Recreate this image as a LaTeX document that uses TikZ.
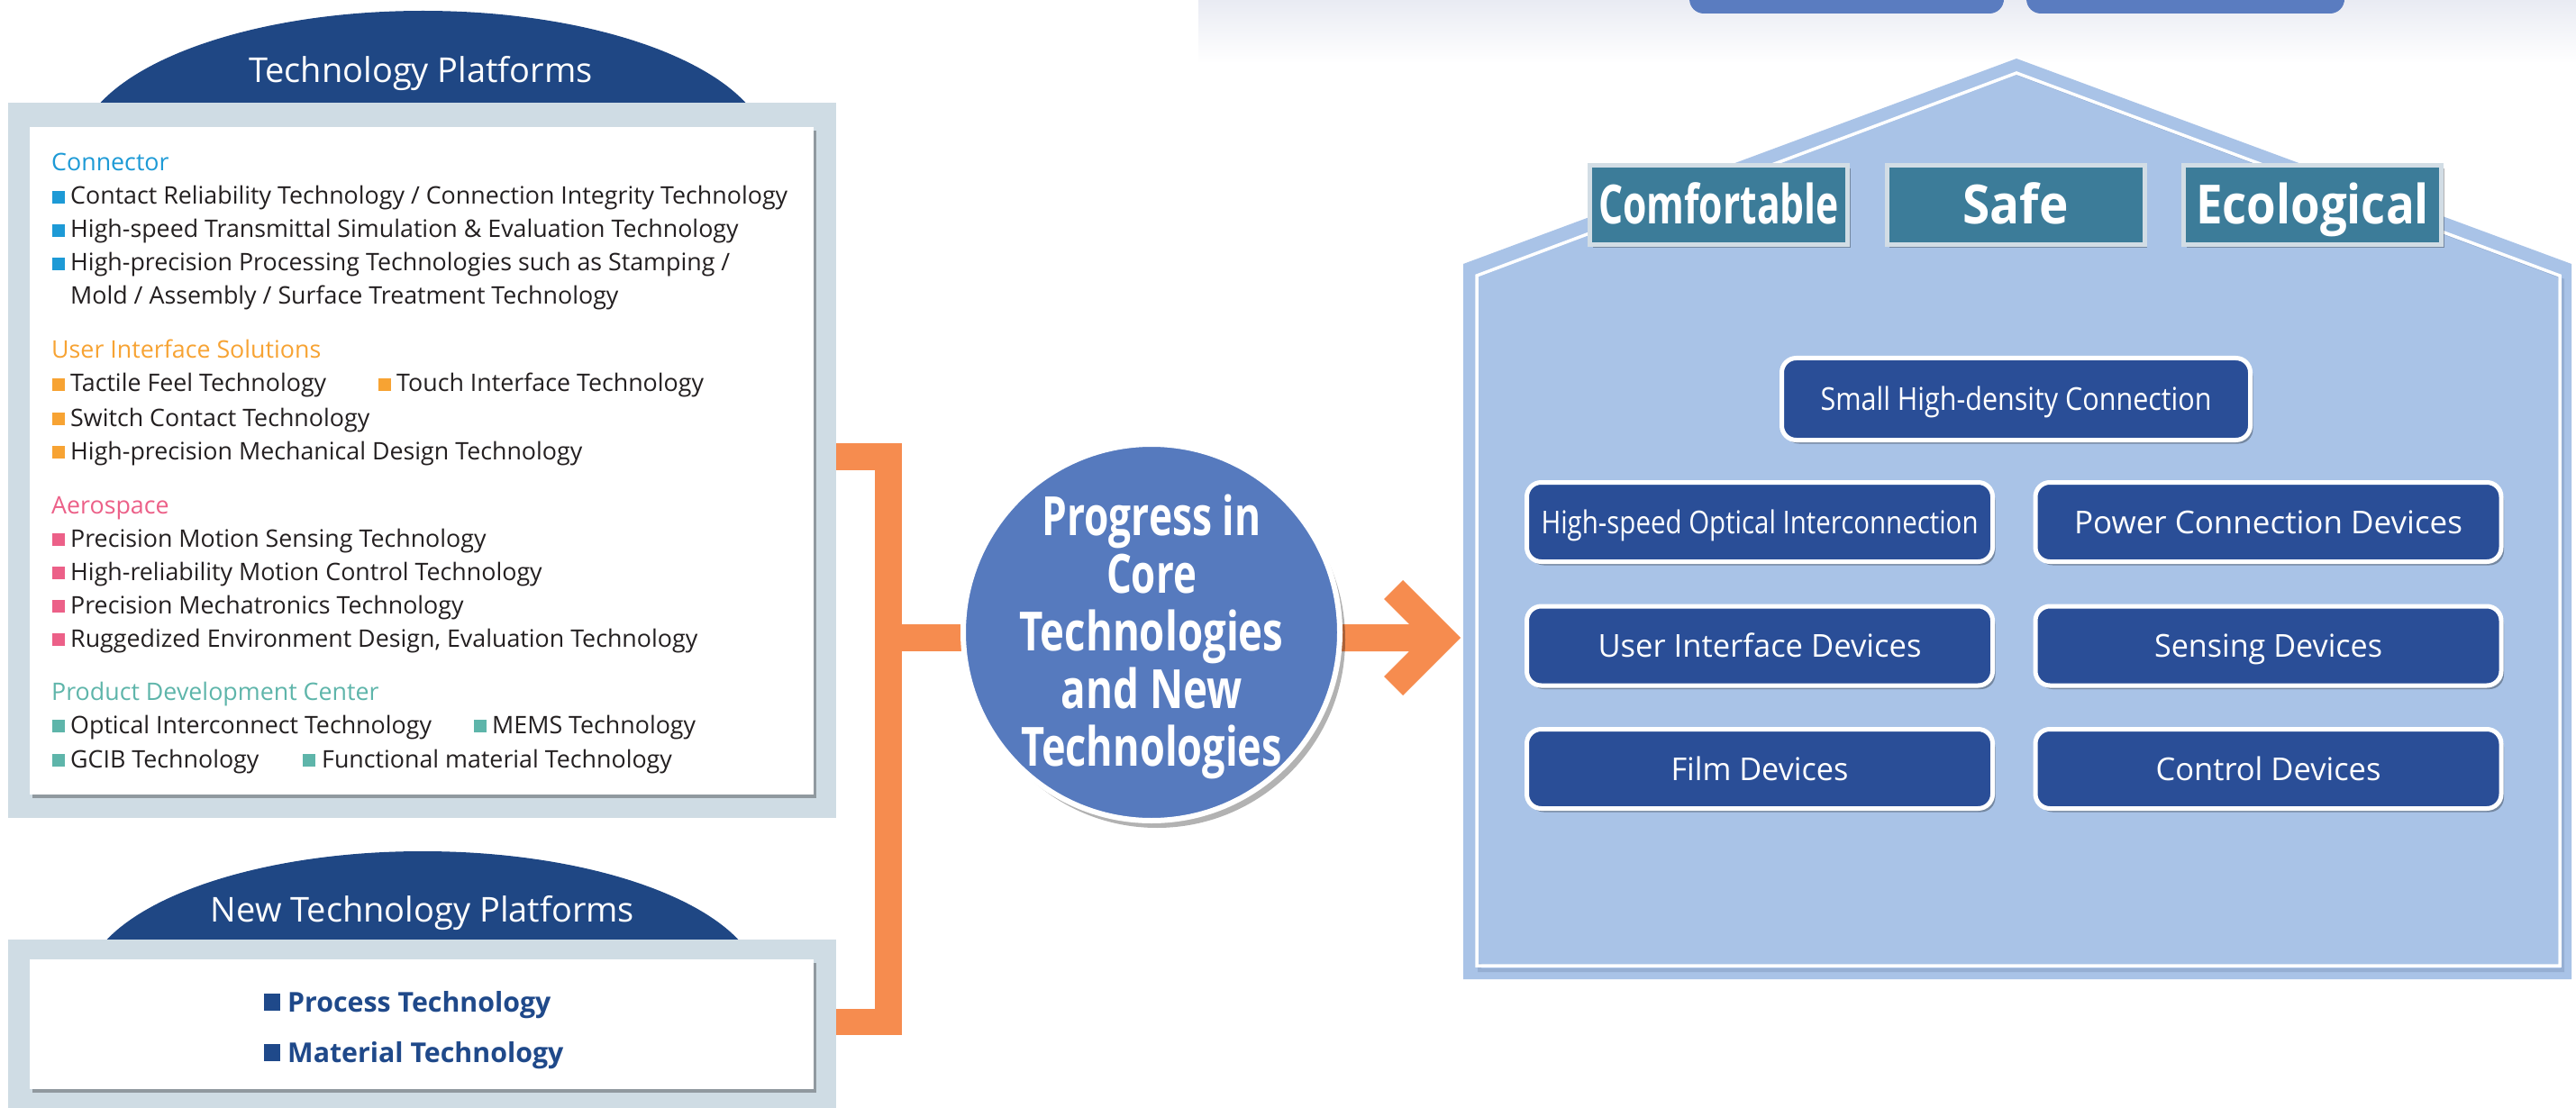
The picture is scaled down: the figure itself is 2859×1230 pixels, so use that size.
\documentclass[tikz,border=0pt]{standalone}
\usepackage{fontspec}
\setmainfont{Open Sans}
\usepackage{graphicx}
\usetikzlibrary{shadows}
\definecolor{arcblue}{HTML}{1F4784}
\definecolor{framegrey}{HTML}{CFDCE4}
\definecolor{orangec}{HTML}{F68C4F}
\definecolor{circblue}{HTML}{567ABE}
\definecolor{housec}{HTML}{A9C3E7}
\definecolor{houseshade}{HTML}{8AA2C6}
\definecolor{devblue}{HTML}{2A4E97}
\definecolor{tealc}{HTML}{3C7C99}
\definecolor{tealedge}{HTML}{D2DDE5}
\definecolor{btnblue}{HTML}{5A7CC0}
\definecolor{cloudc}{HTML}{E9EBF3}
\definecolor{txtblack}{HTML}{231F20}
\definecolor{cyanc}{HTML}{1D9AD6}
\definecolor{uiorange}{HTML}{F7A333}
\definecolor{aeropink}{HTML}{EC6088}
\definecolor{pdcteal}{HTML}{5EB5AA}
\definecolor{navytxt}{HTML}{1F498A}
\newsavebox\fitbox
\newcommand\fitx[2]{\sbox\fitbox{#2}\pgfmathsetmacro\fitf{#1/\the\wd\fitbox}\scalebox{\fitf}[1]{\usebox\fitbox}}
\newcommand\bul[3]{\fill[#1] (#2,#3-15) rectangle (#2+14,#3-1);}
\tikzset{
  softshadow/.style={drop shadow={shadow xshift=3pt, shadow yshift=-4pt, opacity=0.3, fill=black}},
  arctitle/.style={anchor=base, text=white, font=\fontsize{38}{44}\selectfont, inner sep=0pt},
  bodytxt/.style={anchor=base west, inner sep=0pt, text=txtblack, font=\fontsize{26.8}{32}\selectfont},
  headtxt/.style={anchor=base west, inner sep=0pt, font=\fontsize{26.8}{32}\selectfont},
  newtxt/.style={anchor=base west, inner sep=0pt, text=navytxt, font=\fontsize{30.3}{34}\selectfont\bfseries},
  devbox/.style={rectangle, rounded corners=16pt, fill=devblue, draw=white, line width=5pt,
    minimum width=517pt, minimum height=88pt, inner sep=0pt, text=white,
    font=\fontsize{35}{40}\selectfont, text height=25pt, text depth=0pt, softshadow},
  tealbox/.style={rectangle, fill=tealc, draw=tealedge, line width=5pt,
    minimum width=286pt, minimum height=88pt, inner sep=0pt, text=white,
    font=\fontsize{60}{64}\selectfont\bfseries, text height=43pt, text depth=0pt, softshadow},
}
\begin{document}
\begin{tikzpicture}[x=1pt,y=-1pt]
\useasboundingbox (0,0) rectangle (2859,1230);
% faint sky at top right
\fill[top color=cloudc, bottom color=white] (1330,0) rectangle (2859,70);
% cut-off buttons at the top
\fill[btnblue, rounded corners=16pt] (1875,-40) rectangle (2224,15);
\fill[btnblue, rounded corners=16pt] (2249,-40) rectangle (2602,15);

% ---------- Technology Platforms panel ----------
\fill[arcblue] (469.5,172) ellipse (384 and 160);
\node[arctitle] (tptitle) at (467,92) {Technology Platforms};
\fill[framegrey] (9,114) rectangle (928,908);
\fill[white, softshadow] (33,141) rectangle (903,882);

\node[headtxt, text=cyanc] (h1) at (57,190) {Connector};
\bul{cyanc}{58}{227}\node[bodytxt] (l1) at (78,227) {Contact Reliability Technology / Connection Integrity Technology};
\bul{cyanc}{58}{264}\node[bodytxt] (l2) at (78,264) {High-speed Transmittal Simulation \& Evaluation Technology};
\bul{cyanc}{58}{301}\node[bodytxt] (l3) at (78,301) {High-precision Processing Technologies such as Stamping /};
\node[bodytxt] (l4) at (78,338) {Mold / Assembly / Surface Treatment Technology};

\node[headtxt, text=uiorange] (h2) at (57,398) {User Interface Solutions};
\bul{uiorange}{58}{435}\node[bodytxt] (l5) at (78,435) {Tactile Feel Technology};
\bul{uiorange}{420}{435}\node[bodytxt] (l6) at (440,435) {Touch Interface Technology};
\bul{uiorange}{58}{473}\node[bodytxt] (l7) at (78,473) {Switch Contact Technology};
\bul{uiorange}{58}{510}\node[bodytxt] (l8) at (78,510) {High-precision Mechanical Design Technology};

\node[headtxt, text=aeropink] (h3) at (57,570) {Aerospace};
\bul{aeropink}{58}{607}\node[bodytxt] (l9) at (78,607) {Precision Motion Sensing Technology};
\bul{aeropink}{58}{644}\node[bodytxt] (l10) at (78,644) {High-reliability Motion Control Technology};
\bul{aeropink}{58}{681}\node[bodytxt] (l11) at (78,681) {Precision Mechatronics Technology};
\bul{aeropink}{58}{718}\node[bodytxt] (l12) at (78,718) {Ruggedized Environment Design, Evaluation Technology};

\node[headtxt, text=pdcteal] (h4) at (57,777) {Product Development Center};
\bul{pdcteal}{58}{814}\node[bodytxt] (l13) at (78,814) {Optical Interconnect Technology};
\bul{pdcteal}{526}{814}\node[bodytxt] (l14) at (546,814) {MEMS Technology};
\bul{pdcteal}{58}{852}\node[bodytxt] (l15) at (78,852) {GCIB Technology};
\bul{pdcteal}{336}{852}\node[bodytxt] (l16) at (357,852) {Functional material Technology};

% ---------- New Technology Platforms panel ----------
\fill[arcblue] (469,1099) ellipse (376 and 154);
\node[arctitle] (ntptitle) at (469,1023) {New Technology Platforms};
\fill[framegrey] (9,1043) rectangle (928,1240);
\fill[white, softshadow] (33,1065) rectangle (903,1209);
\fill[navytxt] (293,1103) rectangle (311,1122);
\node[newtxt] (n1) at (319,1123) {Process Technology};
\fill[navytxt] (293,1159) rectangle (311,1178);
\node[newtxt] (n2) at (319,1179) {Material Technology};

% ---------- orange bracket ----------
\fill[orangec] (928,492) rectangle (1001,522);
\fill[orangec] (971,492) rectangle (1001,1149);
\fill[orangec] (928,1120) rectangle (1001,1149);
\fill[orangec] (1001,693) rectangle (1100,723);
% arrow to the house
\fill[orangec] (1460,693) -- (1564,693) -- (1536,665) -- (1557,644) -- (1621,708)
  -- (1557,772) -- (1536,751) -- (1564,723) -- (1460,723) -- cycle;

% ---------- core circle ----------
\node[circle, fill=circblue, draw=white, line width=6pt, minimum size=418pt, inner sep=0pt,
  drop shadow={shadow xshift=6pt, shadow yshift=-8pt, opacity=0.3, fill=black}] (core) at (1278,702) {};
\node[align=center, text=white, font=\fontsize{60}{64}\selectfont\bfseries, inner sep=0pt] (coretext)
  at ([yshift=-5pt]core.center)
  {\fitx{243}{Progress in}\\\fitx{100}{Core}\\\fitx{293}{Technologies}\\\fitx{201}{and New}\\\fitx{290}{Technologies}};

% ---------- house ----------
\fill[housec] (1624,1087) -- (1624,293) -- (2238,65) -- (2854,293) -- (2854,1087) -- cycle;
\draw[houseshade, line width=4pt, opacity=0.6] (1642,1077) -- (1642,311) -- (2240,86) -- (2844,311) -- (2844,1077) -- cycle;
\draw[white, line width=3.5pt] (1639,1072) -- (1639,306) -- (2238,81) -- (2841,306) -- (2841,1072) -- cycle;
\fill[housec] (1641,1069.5) -- (1641,308) -- (2238,83.5) -- (2839,308) -- (2839,1069.5) -- cycle;

\node[tealbox] (comf) at (1907.5,227.5) {\fitx{267}{Comfortable}};
\node[tealbox] (safe) at (2237,227.5) {\fitx{117}{Safe}};
\node[tealbox] (eco) at (2566.5,227.5) {\fitx{259}{Ecological}};

\node[devbox, minimum width=520pt, minimum height=91pt] (small) at (2237.5,443) {\fitx{434}{Small High-density Connection}};
\node[devbox] (optic) at (1953,579.5) {\fitx{485}{High-speed Optical Interconnection}};
\node[devbox] (power) at (2517.5,579.5) {\fitx{431}{Power Connection Devices}};
\node[devbox] (uidev) at (1953,717) {\fitx{359}{User Interface Devices}};
\node[devbox] (sense) at (2517.5,717) {\fitx{253}{Sensing Devices}};
\node[devbox] (film) at (1953,853.5) {\fitx{197}{Film Devices}};
\node[devbox] (ctrl) at (2517.5,853.5) {\fitx{250}{Control Devices}};
\end{tikzpicture}
\end{document}
